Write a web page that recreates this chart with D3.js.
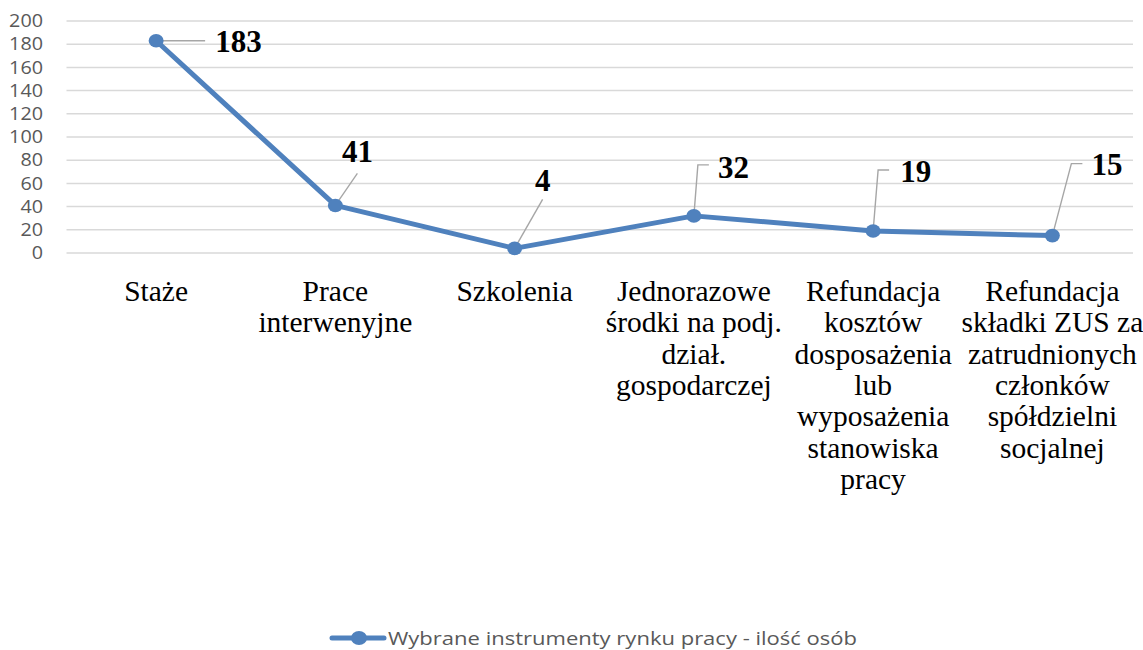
<!DOCTYPE html>
<html>
<head>
<meta charset="utf-8">
<script src="https://cdn.jsdelivr.net/npm/d3@7"></script>
<style>
  body { margin: 0; background: #fff; }
</style>
</head>
<body>
<svg id="chart" width="1143" height="650"></svg>
<script>
const categories = [
  ["Staże"],
  ["Prace", "interwenyjne"],
  ["Szkolenia"],
  ["Jednorazowe", "środki na podj.", "dział.", "gospodarczej"],
  ["Refundacja", "kosztów", "dosposażenia", "lub", "wyposażenia", "stanowiska", "pracy"],
  ["Refundacja", "składki ZUS za", "zatrudnionych", "członków", "spółdzielni", "socjalnej"]
];
const values = [183, 41, 4, 32, 19, 15];
const yTicks = [0, 20, 40, 60, 80, 100, 120, 140, 160, 180, 200];
const seriesName = "Wybrane instrumenty rynku pracy - ilość osób";

// label offsets (leader end / text position relative to point)
const labelPos = [
  { lx: 49, ly: 0, tx: 59, ty: 1, anchor: "start", elbow: false },
  { lx: 22, ly: -32, tx: 22, ty: -54, anchor: "middle", elbow: false },
  { lx: 28, ly: -49, tx: 28, ty: -68, anchor: "middle", elbow: false },
  { lx: 4, ly: -51, tx: 24, ty: -48, anchor: "start", elbow: true },
  { lx: 5, ly: -61, tx: 27, ty: -59, anchor: "start", elbow: true },
  { lx: 19, ly: -72, tx: 39, ty: -71, anchor: "start", elbow: true }
];

const color = "#4F81BD";
const serif = "'Liberation Serif', 'Times New Roman', serif";
const sans = "'Open Sans', 'Noto Sans', sans-serif";
const svg = d3.select("#chart");
const plotLeft = 66.5, plotRight = 1142, plotTop = 21, plotBottom = 253;

const x = d3.scaleBand().domain(d3.range(categories.length)).range([plotLeft, plotRight]);
const y = d3.scaleLinear().domain([0, 200]).range([plotBottom, plotTop]);
const px = i => x(i) + x.bandwidth() / 2;

// gridlines
svg.append("g")
  .selectAll("line")
  .data(yTicks)
  .join("line")
  .attr("x1", plotLeft)
  .attr("x2", 1133)
  .attr("y1", d => y(d))
  .attr("y2", d => y(d))
  .attr("stroke", "#d9d9d9")
  .attr("stroke-width", 1.5);

// y axis
const yAxis = svg.append("g")
  .attr("transform", `translate(${plotLeft},0)`)
  .call(d3.axisLeft(y).tickValues(yTicks).tickSize(0).tickPadding(23.5));
yAxis.select(".domain").remove();
yAxis.selectAll("text")
  .style("font-family", sans)
  .style("font-size", "17.5px")
  .style("fill", "#595959")
  .attr("textLength", d => String(d).length * 11.3)
  .attr("lengthAdjust", "spacingAndGlyphs");

// category labels
categories.forEach((lines, i) => {
  const t = svg.append("text")
    .style("font-family", serif)
    .style("font-size", "29.5px")
    .style("fill", "#000")
    .attr("text-anchor", "middle")
    .attr("x", px(i))
    .attr("y", 301);
  lines.forEach((ln, j) => {
    t.append("tspan")
      .attr("x", px(i))
      .attr("dy", j === 0 ? 0 : 31.3)
      .text(ln);
  });
});

// leader lines
values.forEach((v, i) => {
  const p = labelPos[i];
  const x0 = px(i), y0 = y(v);
  let pts;
  if (p.elbow) {
    pts = [[x0, y0], [x0 + p.lx, y0 + p.ly], [x0 + p.lx + 11, y0 + p.ly]];
  } else {
    pts = [[x0, y0], [x0 + p.lx, y0 + p.ly]];
  }
  svg.append("path")
    .attr("d", d3.line()(pts))
    .attr("fill", "none")
    .attr("stroke", "#a6a6a6")
    .attr("stroke-width", 1.4);
});

// series line
svg.append("path")
  .datum(values)
  .attr("d", d3.line().x((d, i) => px(i)).y(d => y(d)))
  .attr("fill", "none")
  .attr("stroke", color)
  .attr("stroke-width", 5)
  .attr("stroke-linejoin", "round");

svg.append("g")
  .selectAll("ellipse")
  .data(values)
  .join("ellipse")
  .attr("cx", (d, i) => px(i))
  .attr("cy", d => y(d))
  .attr("rx", 7.5)
  .attr("ry", 6.8)
  .attr("fill", color);

// value labels
values.forEach((v, i) => {
  const p = labelPos[i];
  svg.append("text")
    .style("font-family", serif)
    .style("font-size", "31px")
    .style("font-weight", "bold")
    .style("fill", "#000")
    .attr("x", px(i) + p.tx)
    .attr("y", y(v) + p.ty)
    .attr("dy", "0.33em")
    .attr("text-anchor", p.anchor)
    .text(v);
});

// legend
const lg = svg.append("g").attr("transform", "translate(330,638)");
lg.append("line").attr("x1", 2).attr("x2", 54).attr("y1", 0).attr("y2", 0)
  .attr("stroke", color).attr("stroke-width", 5).attr("stroke-linecap", "round");
lg.append("ellipse").attr("cx", 29).attr("cy", 0).attr("rx", 8).attr("ry", 7).attr("fill", color);
lg.append("text")
  .attr("x", 58)
  .attr("y", 0)
  .attr("dy", "0.36em")
  .attr("textLength", 469)
  .attr("lengthAdjust", "spacingAndGlyphs")
  .style("font-family", sans)
  .style("font-size", "18.5px")
  .style("fill", "#595959")
  .text(seriesName);
</script>
</body>
</html>
